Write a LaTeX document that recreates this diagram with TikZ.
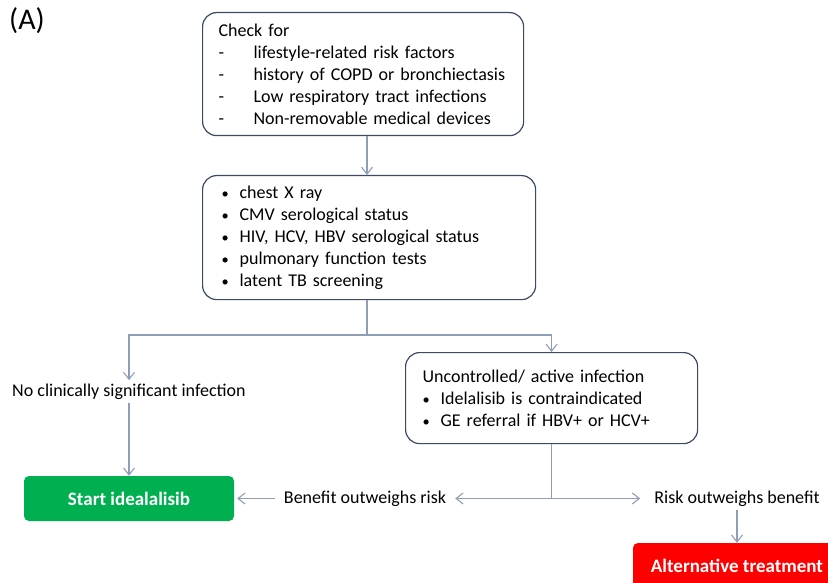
\documentclass[tikz,border=0pt]{standalone}
\usepackage{fontspec}
\setmainfont{Carlito}
\usetikzlibrary{arrows.meta, positioning}

\definecolor{edgeblue}{HTML}{8F9DB8}
\definecolor{boxline}{HTML}{3C4A63}
\definecolor{okgreen}{HTML}{00B050}

\newcommand{\dashitem}[1]{\makebox[35pt][l]{-}#1}
\newcommand{\dotitem}[1]{\makebox[18pt][l]{\scalebox{0.8}{\textbullet}}#1}

\begin{document}
\begin{tikzpicture}[
  x=1pt, y=-1pt,
  >={Straight Barb[length=7pt, width=11pt]},
  font=\fontsize{18}{22}\selectfont,
  box/.style={draw=boxline, line width=1.2pt, rounded corners=14pt, align=left, inner xsep=16pt, anchor=north west},
  fillbox/.style={rounded corners=5pt, text=white, font=\fontsize{19}{22}\selectfont\bfseries},
  conn/.style={draw=edgeblue, line width=1.1pt},
  lab/.style={inner xsep=9pt}]
  \clip (0,0) rectangle (828,583);
  \node[anchor=north west, font=\fontsize{30}{32}\selectfont, inner sep=0pt] (panel) at (9,7) {(A)};

  \node[box, minimum width=321pt, minimum height=123pt, text width=289pt] (check) at (202,12)
    {Check for\\ \dashitem{lifestyle-related risk factors}\\ \dashitem{history of COPD or bronchiectasis}\\
     \dashitem{Low respiratory tract infections}\\ \dashitem{Non-removable medical devices}};
  \node[box, minimum width=327pt, minimum height=124pt, text width=295pt, inner xsep=19pt] (tests) at (202,175)
    {\dotitem{chest X ray}\\ \dotitem{CMV serological status}\\ \dotitem{HIV, HCV, HBV serological status}\\
     \dotitem{pulmonary function tests}\\ \dotitem{latent TB screening}};
  \node[box, minimum width=292pt, minimum height=91pt, text width=258pt, inner xsep=17pt] (active) at (405,352)
    {Uncontrolled/ active infection\\ \dotitem{Idelalisib is contraindicated}\\ \dotitem{GE referral if HBV+ or HCV+}};

  \node[lab] (noinf) at (129,391.5) {No clinically significant infection};
  \node[fillbox, fill=okgreen, minimum width=210pt, minimum height=45pt] (start) at (129,498.5) {Start idealalisib};
  \node[lab] (benefit) at (365,498.5) {Benefit outweighs risk};
  \node[lab, inner xsep=14pt] (risk) at (737,498.5) {Risk outweighs benefit};
  \node[fillbox, fill=red, minimum width=208pt, minimum height=46pt] (alt) at (737,566) {Alternative treatment};

  \coordinate (fork) at (367,335);
  \coordinate (split) at (active.south |- benefit);

  \draw[conn, ->] (check.south -| fork) -- (tests.north -| fork);
  \draw[conn] (tests.south -| fork) -- (fork);
  \draw[conn, ->] (fork) -| (noinf.north);
  \draw[conn, ->] (fork) -| (active.north);
  \draw[conn, ->] (noinf.south) -- (start.north);
  \draw[conn] (active.south) -- (split);
  \draw[conn, ->] (split) -- (benefit.east);
  \draw[conn, ->] (split) -- (risk.west);
  \draw[conn, ->, shorten >=3pt] (benefit.west) -- (start.east);
  \draw[conn, ->] (risk.south) -- (alt.north);
\end{tikzpicture}
\end{document}
